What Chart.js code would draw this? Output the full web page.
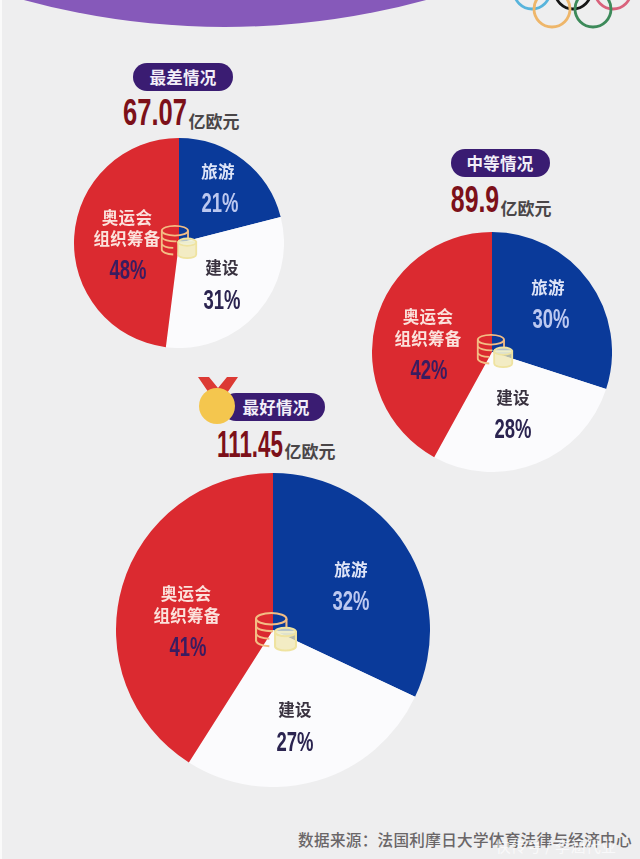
<!DOCTYPE html>
<html lang="zh"><head><meta charset="utf-8">
<script src="https://cdn.jsdelivr.net/npm/chart.js@4"></script>
<style>
html,body{margin:0;padding:0;background:#eeeeee;}
#page{position:relative;width:640px;height:859px;overflow:hidden;background:#eeeeef;filter:blur(.55px);}
#page canvas{position:absolute;display:block;}
.t{position:absolute;transform:translate(-50%,-50%);white-space:nowrap;line-height:1;font-family:"Noto Sans CJK SC",sans-serif;}
.cn{font-size:16.5px;font-weight:700;letter-spacing:.3px;}
.pc{font-family:"Liberation Sans",sans-serif;font-weight:700;font-size:28px;transform:translate(-50%,-50%) scaleX(.66);}
.pill{position:absolute;background:#3a1c72;border-radius:14px;}
.tot{font-family:"Liberation Sans",sans-serif;font-weight:700;font-size:36px;color:#7c1019;}
.unit{font-size:17px;font-weight:700;color:#4a4648;}
svg{position:absolute;overflow:visible;}
</style></head><body>
<div id="page">
<div style="position:absolute;left:0;top:0;width:2px;height:859px;background:#fafafa"></div>
<svg style="left:0;top:0" width="640" height="40">
  <circle cx="225" cy="-736" r="763" fill="#8659ba"/>
  <g fill="none" stroke-width="2.8">
    <circle cx="532" cy="-9" r="18" stroke="#58b4dc"/>
    <circle cx="573" cy="-9" r="18" stroke="#161616"/>
    <circle cx="613" cy="-9" r="18" stroke="#d9627c"/>
    <circle cx="552" cy="9" r="18" stroke="#eeb66a"/>
    <circle cx="593" cy="9" r="18" stroke="#3d8a5a"/>
  </g>
</svg>
</div>
<script>
const categories = ['旅游', '建设', '奥运会\n组织筹备'];
const colors = ['#0a3a9a', '#fbfbfd', '#db2a30'];
const worstValues = [21, 31, 48];
const middleValues = [30, 28, 42];
const bestValues = [32, 27, 41];
const titles = ['最差情况', '中等情况', '最好情况'];
const totals = ['67.07', '89.9', '111.45'];
const unit = '亿欧元';
const source = '数据来源：法国利摩日大学体育法律与经济中心';
const watermark = '快传号 / 李涵代业';

const layouts = [
 {values:worstValues,cx:179,cy:243,r:105,
  pill:[133,63,100,28],title:[183,77],total:[155,113,.71],unit:[214,120],icon:[179,243,.82],
  labels:[[218,171,220,203],[222,267,222,300],[127,217,127,238,128,270]]},
 {values:middleValues,cx:492,cy:352,r:120,
  pill:[451,149,99,28],title:[500,163],total:[475,200,.69],unit:[526,207],icon:[495,352,.82],
  labels:[[548,287,551,319],[513,397,513,429],[428,316,428,338,429,370]]},
 {values:bestValues,cx:272.5,cy:629.5,r:157,
  pill:[222,393,103,28],title:[276,407],total:[250,445,.62],unit:[310,450],icon:[276,633,.95],
  labels:[[351,569,351,601],[295,709,295,742],[186,593,187,615,188,647]]}
];
const pctColors = ['#bcc8f0', '#2b2450', '#3a1c60'];
const nameColors = ['#dfe5f8', '#3a3340', '#fbe2dc'];
const page = document.getElementById('page');

function addText(cls, text, x, y, color){
  const d = document.createElement('div');
  d.className = 't ' + cls; d.textContent = text;
  d.style.left = x + 'px'; d.style.top = y + 'px';
  if (color) d.style.color = color;
  page.appendChild(d);
  return d;
}
function coins(x, y, s){
  const ns = 'http://www.w3.org/2000/svg';
  const g = document.createElementNS(ns, 'svg');
  g.setAttribute('width', 1); g.setAttribute('height', 1);
  g.style.left = x + 'px'; g.style.top = y + 'px';
  g.innerHTML = `<g transform="scale(${s})" fill="none" stroke-width="2.2">
    <g stroke="#f3bd84">
      <ellipse cx="-5" cy="-15" rx="16" ry="6"/>
      <path d="M-21 -15V8a16 6 0 0 0 14 6M11 -15V-6M-21 -7a16 6 0 0 0 18 5M-21 1a16 6 0 0 0 14 5"/>
    </g>
    <g stroke="#efe3a0" fill="#f0e7b0" fill-opacity=".75">
      <path d="M-1 -1V14a11 4.5 0 0 0 22 0V-1z"/>
      <ellipse cx="10" cy="-1" rx="11" ry="4.5" fill="#eef0d8"/>
    </g></g>`;
  page.appendChild(g);
}

layouts.forEach((L, i) => {
  const cv = document.createElement('canvas');
  const size = L.r * 2;
  cv.width = size; cv.height = size;
  cv.style.left = (L.cx - L.r) + 'px'; cv.style.top = (L.cy - L.r) + 'px';
  cv.style.width = size + 'px'; cv.style.height = size + 'px';
  page.appendChild(cv);
  new Chart(cv, {
    type: 'pie',
    data: { labels: categories, datasets: [{ data: L.values, backgroundColor: colors, borderWidth: 0 }] },
    options: { responsive: false, animation: false, layout: { padding: 0 },
      plugins: { legend: { display: false }, tooltip: { enabled: false } } }
  });
  const p = document.createElement('div');
  p.className = 'pill';
  p.style.cssText = `left:${L.pill[0]}px;top:${L.pill[1]}px;width:${L.pill[2]}px;height:${L.pill[3]}px`;
  page.appendChild(p);
  addText('cn', titles[i], L.title[0], L.title[1], '#f2eff8');
  addText('tot', totals[i], L.total[0], L.total[1]).style.transform = `translate(-50%,-50%) scaleX(${L.total[2]})`;
  addText('unit', unit, L.unit[0], L.unit[1]);
  categories.forEach((c, k) => {
    const a = L.labels[k], lines = c.split('\n');
    lines.forEach((ln, n) => addText('cn', ln, a[n * 2], a[n * 2 + 1], nameColors[k]));
    addText('pc', L.values[k] + '%', a[lines.length * 2], a[lines.length * 2 + 1], pctColors[k]);
  });
  coins(L.icon[0], L.icon[1], L.icon[2]);
});

// medal
const m = document.createElementNS('http://www.w3.org/2000/svg', 'svg');
m.setAttribute('width', 1); m.setAttribute('height', 1);
m.style.left = '0'; m.style.top = '0';
m.innerHTML = '<path d="M198 377h11l9 11 9-11h11l-13 19h-14z" fill="#dc3a34"/><circle cx="217" cy="406" r="18" fill="#f4c64e"/>';
page.appendChild(m);

const s = addText('cn', source, 465, 840, '#6a6668');
s.style.fontWeight = '500'; s.style.fontSize = '15.6px';
const w = addText('cn', watermark, 556, 845, '#ffffff');
w.style.fontWeight = '400'; w.style.fontSize = '15px'; w.style.opacity = '.7';
</script>
</body></html>
